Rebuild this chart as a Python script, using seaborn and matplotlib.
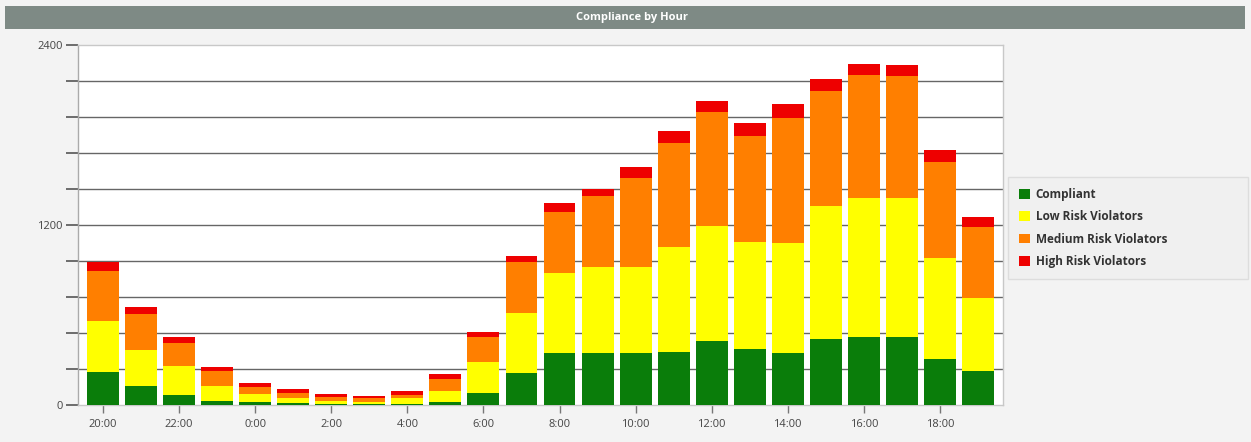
import matplotlib
matplotlib.use("Agg")
import matplotlib.pyplot as plt
import matplotlib.patches as mpatches
import numpy as np
import pandas as pd
import seaborn as sns

hours = ["20:00", "21:00", "22:00", "23:00", "0:00", "1:00", "2:00", "3:00",
         "4:00", "5:00", "6:00", "7:00", "8:00", "9:00", "10:00", "11:00",
         "12:00", "13:00", "14:00", "15:00", "16:00", "17:00", "18:00", "19:00"]
compliant = [218, 129, 67, 29, 18, 16, 10, 8, 10, 18, 82, 216, 344, 344, 344, 356,
             429, 371, 344, 440, 456, 456, 304, 227]
low_risk = [344, 238, 195, 98, 55, 33, 19, 14, 34, 78, 202, 395, 534, 574, 574, 695,
            764, 718, 734, 889, 926, 922, 674, 484]
medium_risk = [333, 240, 154, 100, 49, 33, 22, 22, 25, 77, 172, 345, 411, 475, 598, 693,
               763, 704, 833, 767, 818, 815, 644, 478]
high_risk = [60, 48, 35, 29, 27, 25, 22, 18, 27, 31, 33, 40, 55, 47, 68, 85,
             73, 85, 93, 77, 73, 76, 78, 67]
series_names = ["Compliant", "Low Risk Violators", "Medium Risk Violators", "High Risk Violators"]
series_colors = ["#0a7d0a", "#ffff00", "#ff7f00", "#ee0000"]
title = "Compliance by Hour"

sns.set_theme(style="white")
plt.rcParams["font.family"] = ["Open Sans", "DejaVu Sans"]

df = pd.DataFrame({"hour": hours, "Compliant": compliant, "Low": low_risk,
                   "Medium": medium_risk, "High": high_risk})
cum = [df["Compliant"],
       df["Compliant"] + df["Low"],
       df["Compliant"] + df["Low"] + df["Medium"],
       df["Compliant"] + df["Low"] + df["Medium"] + df["High"]]

fig = plt.figure(figsize=(12.51, 4.42), dpi=100)
fig.patch.set_facecolor("#f3f3f3")

# title bar
fig.patches.append(mpatches.Rectangle((5 / 1251, 1 - 29 / 442), 1240 / 1251, 23 / 442,
                                      transform=fig.transFigure, facecolor="#7e8a85",
                                      edgecolor="none", zorder=0))
fig.text(0.505, 1 - 17.5 / 442, title, ha="center", va="center", color="white",
         fontsize=8, fontweight="bold")

ax = fig.add_axes([78 / 1251, 1 - 405 / 442, 925 / 1251, 360 / 442])
ax.set_facecolor("white")

for i in range(3, -1, -1):
    sns.barplot(x=df["hour"], y=cum[i], order=hours, color=series_colors[i],
                saturation=1, width=0.84, edgecolor="none", linewidth=0, ax=ax,
                zorder=3)

ax.set_xlim(-0.66, 23.66)
ax.set_ylim(0, 2400)
ax.set_yticks(np.arange(0, 2401, 240))
ax.set_yticklabels(["0" if v == 0 else (str(v) if v in (1200, 2400) else "")
                    for v in range(0, 2401, 240)])
for v in range(240, 2400, 240):
    ax.axhline(v, color="#666666", linewidth=1.0, zorder=1)

ax.set_xticks(range(0, 24, 2))
ax.set_xticklabels(hours[0::2])
ax.set_xlabel("")
ax.set_ylabel("")
ax.tick_params(axis="y", length=9, width=1.2, color="#555555", labelsize=8,
               labelcolor="#444444", pad=2, left=True)
ax.tick_params(axis="x", length=6, width=1, color="#777777", labelsize=8,
               labelcolor="#444444", pad=4, bottom=True, direction="out")
for side in ["top", "right", "left", "bottom"]:
    ax.spines[side].set_color("#c8c8c8")
    ax.spines[side].set_linewidth(1)
ax.spines["left"].set_color("#aaaaaa")

handles = [mpatches.Patch(facecolor=c, edgecolor="none", label=n)
           for n, c in zip(series_names, series_colors)]
leg = fig.legend(handles=handles, loc="upper left", mode="expand",
                 bbox_to_anchor=(1008 / 1251, 1 - 276 / 442, 240 / 1251, 99 / 442),
                 frameon=True, fontsize=8.5, handlelength=0.9, handleheight=0.9,
                 handletextpad=0.5, labelspacing=0.78, borderpad=0.95,
                 borderaxespad=0, fancybox=False)
leg.get_frame().set_facecolor("#f0f0f0")
leg.get_frame().set_edgecolor("#d8d8d8")
for t in leg.get_texts():
    t.set_fontweight("bold")
    t.set_color("#333333")

fig.savefig("out.png", dpi=100, facecolor=fig.get_facecolor())
